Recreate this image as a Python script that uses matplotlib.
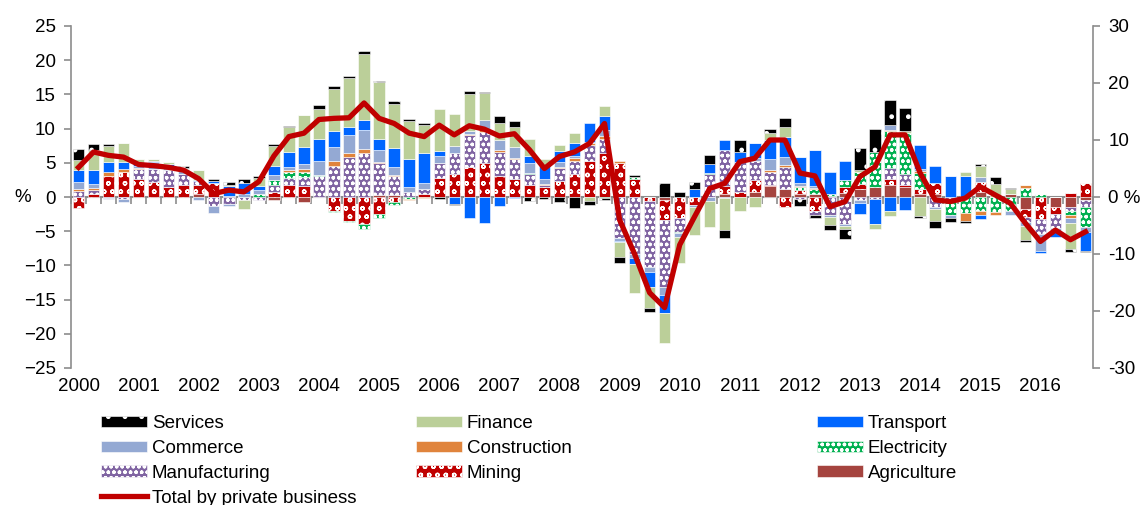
import numpy as np
import matplotlib
matplotlib.use("Agg")
import matplotlib.pyplot as plt
from matplotlib.ticker import FixedLocator, FuncFormatter

plt.rcParams["font.family"] = ["Liberation Sans", "DejaVu Sans"]
plt.rcParams["hatch.linewidth"] = 1.0

# quarterly contributions (percentage points), 2000Q1 .. 2016Q4
years = list(range(2000, 2017))

services = [1.5, 0.9, 0.3, 0, 0, 0, 0, 0.3, 0, 0.3, 0.4, 0.6,
            0.2, 0.4, 0.25, 0, 0.5, 0.4, 0.35, 0.5, 0.25, 0.4, 0.25, 0.35,
            -0.3, -0.2, 0.4, 0.2, 1.0, 0.9, -0.6, -0.3, -0.8, -1.6, -0.5, -0.2,
            -0.8, 0.25, -0.5, 2.1, 0.7, 1.1, 1.3, -1.2, 1.8, 0, 0.5, 1.2,
            -1.0, -0.4, -0.7, -1.5, 3.1, 3.4, 3.65, 3.4, -0.3, -1.0, -0.6, -0.35,
            0.25, 1.0, 0.25, -0.25, 0, 0, -0.5, -0.1]
finance = [1.5, 2.8, 2.3, 2.7, 0.6, 0.3, 0.3, 0.2, 1.4, 0, 0.2, -1.3,
           1.2, 2.8, 3.6, 4.7, 4.4, 6.2, 7.2, 9.7, 8.2, 6.5, 5.5, 4.0,
           6.1, 4.7, 5.4, 3.9, 2.4, 2.9, 2.4, 0.8, 0.8, 1.5, -0.6, 1.5,
           -2.2, -4.3, -3.2, -4.4, -3.9, -4.1, -3.8, -4.6, -2.0, -1.4, 1.0, 1.6,
           0, 0, -1.2, -0.4, 0.4, -0.8, -0.7, 0.3, -2.8, -1.7, 0, 0.6,
           1.7, 1.95, 0.6, -2.0, 0, 0, -3.8, 0]
transport = [1.8, 2.15, 1.5, 1.1, 0.4, 0.1, 0.25, 0, 0.2, 0.4, 1.4, 1.6,
             0.6, 1.4, 2.2, 2.4, 3.2, 2.3, 1.1, 1.4, 1.7, 2.8, 4.1, 4.4,
             0.7, -1.0, -3.0, -3.8, -1.3, -0.2, 1.1, 2.0, 1.6, 1.85, 2.7, 2.0,
             -0.1, -0.9, -2.2, -2.6, 0, 1.1, 1.3, 1.45, 1.45, 2.2, 2.9, 2.8,
             3.75, 5.3, 3.2, 2.8, -1.6, -3.6, -2.1, -1.85, 3.4, 2.5, 3.1, 3.1,
             -0.5, 0, 0, 0, -0.3, -0.8, 0, -2.8]
commerce = [1.0, 0.6, -0.2, -0.5, 0.3, 1.0, 0.7, 0.7, -0.5, -1.0, -0.3, 0.4,
            0.5, 0.7, 0.5, 0.7, 2.1, 2.0, 2.7, 2.8, 1.7, 1.15, 0.7, 0.9,
            1.1, 1.0, 0.5, 1.5, 1.6, 1.7, 1.4, 0.8, 0.8, 0.3, 0.2, 0.9,
            -0.5, -0.5, -0.6, -1.2, -0.5, -0.3, -0.6, -0.2, 0, 0.4, 1.5, 1.2,
            0.4, 0.3, -0.3, -0.4, -0.5, 0, 0.7, 0, 0.3, -0.3, -0.4, 0,
            0.7, 0, -0.5, -0.7, -2.5, -0.5, -0.7, -0.7]
construction = [0.25, 0.25, 0.5, 0.35, 0.15, 0, 0, 0, 0, 0, 0, 0,
                0, 0, 0.25, 0.45, 0, 0.7, 0.6, 0.6, 0.25, 0.1, -0.1, -0.2,
                0, 0, 0.2, 0.3, 0.2, 0.15, 0, 0.2, 0.15, 0.5, 0.25, 0.5,
                0.3, 0, 0, 0, 0, 0, 0, 0, 0, 0, 0.3, 0.3,
                0.15, 0.2, 0, 0, 0, 0, 0.2, 0, 0.35, 0, 0, -1.1,
                -0.6, -0.5, 0, 0.5, 0, 0, -0.4, 0]
electricity = [0, 0, 0, 0, 0, 0, 0, 0, 0, 0, 0, 0,
               0.5, 0.7, 0.8, 0.75, 0.2, -0.1, -0.2, -0.7, -0.5, -0.4, -0.3, 0,
               0, 0, 0, 0, 0, 0, 0.2, 0, 0, 0, 0, -0.2,
               0, 0.2, 0, 0, -0.25, 0, 0.2, 0, 0, 0, 0, 0,
               0.5, 0.7, 0.25, 1.1, 1.7, 5.2, 5.4, 6.0, 2.3, 0, -2.0, -2.4,
               -2.1, -2.2, -2.1, 1.3, 0.4, 0, -0.6, -2.9]
manufacturing = [0.9, 0.5, -0.1, -0.3, 1.5, 1.9, 2.4, 1.7, 0.6, -1.3, -1.0, -0.5,
                 -0.4, 1.0, 1.1, 1.3, 3.0, 4.6, 5.8, 6.4, 4.6, 2.8, 0.8, 0.7,
                 2.1, 3.0, 4.6, 4.6, 3.5, 2.8, 1.6, 0.2, 1.8, 1.8, 2.3, 1.95,
                 -6.0, -8.4, -9.7, -9.9, -1.95, 0, 3.3, 5.3, 4.4, 2.8, 1.95, 3.2,
                 -0.3, -0.5, -2.6, -3.9, -0.4, -0.3, 1.5, 1.6, 0, -1.5, -0.7, 0,
                 0, 0, 0, -0.7, -2.2, -2.0, -0.7, -1.0]
mining = [-1.6, 0.5, 3.1, 3.7, 2.6, 2.2, 1.5, 1.7, 1.2, 2.0, 0, 0,
          0, 0.8, 1.75, 1.65, 0, -2.1, -3.5, -4.0, -2.5, -0.7, 0, 0.5,
          2.8, 3.4, 4.4, 4.9, 3.1, 2.7, 1.75, 1.5, 2.4, 3.4, 5.3, 6.5,
          5.0, 2.7, -0.6, -2.9, -3.1, -1.2, 0, 1.2, 0.7, 1.8, 0.15, -1.4,
          0.5, -2.1, 0, 0.8, 0.7, 0, 1.0, 0.2, 0.7, 1.6, 0, 0,
          1.5, 0, 0, -1.2, -3.2, -1.0, 0.6, 2.1]
agriculture = [0, 0, 0, 0, 0, 0, 0, 0, 0.5, 0, 0.2, 0,
               0, -0.5, 0, -0.7, 0, 0, 0, 0, 0.3, 0.3, 0, 0,
               0, 0, 0, 0, 0, 0, 0, 0, 0, 0, 0, 0,
               0, 0, 0, -0.4, 0, 0, 0, 0.4, 0, 0.7, 1.6, 1.2,
               0.5, 0.4, 0.2, 0.6, 1.2, 1.4, 1.7, 1.5, 0.5, 0.4, 0, 0,
               0.7, 0, 0.5, -1.7, 0, -1.5, -1.4, -0.5]
total = [5.2, 7.9, 7.3, 7.0, 5.7, 5.5, 5.2, 4.7, 3.2, 0.6, 1.2, 0.9,
         2.7, 7.2, 10.6, 11.2, 13.6, 13.8, 13.9, 16.5, 13.8, 12.9, 11.2, 10.6,
         12.6, 10.9, 12.5, 11.9, 10.7, 11.1, 8.3, 5.0, 7.1, 7.9, 9.4, 12.9,
         -4.0, -10.0, -16.8, -19.4, -8.4, -3.4, 1.5, 2.4, 6.2, 6.8, 10.0, 10.0,
         4.2, 3.7, -1.7, -0.8, 3.6, 5.3, 10.9, 10.9, 4.2, -0.5, -0.8, -0.2,
         1.8, 0.35, -1.1, -4.6, -7.8, -5.8, -7.5, -6.1]

# stacking order, bottom (nearest zero) first
stack = [
    ("Agriculture", agriculture, "#A5443F", None),
    ("Mining", mining, "#C00000", "oo"),
    ("Manufacturing", manufacturing, "#8064A2", "ooo"),
    ("Electricity", electricity, "#00B050", "ooo"),
    ("Construction", construction, "#E0843C", None),
    ("Commerce", commerce, "#94A9D3", None),
    ("Transport", transport, "#0066FF", None),
    ("Finance", finance, "#BBCF99", None),
    ("Services", services, "#000000", "."),
]

fig = plt.figure(figsize=(11.46, 5.05), dpi=100)
ax = fig.add_axes([71 / 1146, 1 - 368 / 505, 1022 / 1146, 342 / 505])

x = np.arange(len(total))
pos_base = np.zeros(len(x))
neg_base = np.zeros(len(x))
handles = {}
for name, vals, color, hatch in stack:
    v = np.array(vals, dtype=float)
    bottom = np.where(v >= 0, pos_base, neg_base)
    handles[name] = ax.bar(x, v, 0.76, bottom=bottom, color=color,
                           edgecolor="white", linewidth=0.4, hatch=hatch)
    pos_base += np.clip(v, 0, None)
    neg_base += np.clip(v, None, 0)

grey = "#8C8C8C"
fs = 13.5
ax.set_xlim(-0.5, len(x) - 0.5)
ax.set_ylim(-25, 25)
ax.set_yticks(np.arange(-25, 26, 5))
ax.tick_params(axis="y", direction="out", length=5, width=1.2, color=grey,
               labelsize=fs, pad=6)
ax.set_xticks(np.arange(0, len(x), 4))
ax.set_xticklabels([str(y) for y in years])
ax.tick_params(axis="x", length=0, labelsize=fs, pad=7.5)
for s in ["top", "right", "bottom"]:
    ax.spines[s].set_visible(False)
ax.spines["left"].set_color(grey)
ax.spines["left"].set_linewidth(1.2)
ax.text(-0.047, 0, "%", transform=ax.get_yaxis_transform(), ha="center",
        va="center", fontsize=fs)

# category axis line through zero
sec = ax.secondary_xaxis(0.5)
sec.xaxis.set_major_locator(FixedLocator(np.arange(-0.5, len(x), 1)))
sec.tick_params(axis="x", direction="in", length=5, width=1.2, color=grey,
                labeltop=False, labelbottom=False)
for s in sec.spines.values():
    s.set_color(grey)
    s.set_linewidth(1.5)

ax2 = ax.twinx()
ax2.set_ylim(-30, 30)
line, = ax2.plot(x, total, color="#C00000", linewidth=3.8,
                 solid_joinstyle="round")
ax2.set_yticks(np.arange(-30, 31, 10))
ax2.yaxis.set_major_formatter(FuncFormatter(lambda v, p: "0 %" if v == 0 else f"{v:.0f}"))
ax2.tick_params(axis="y", direction="out", length=5, width=1.2, color=grey,
                labelsize=fs, pad=6)
for s in ["top", "left", "bottom"]:
    ax2.spines[s].set_visible(False)
ax2.spines["right"].set_color(grey)
ax2.spines["right"].set_linewidth(1.2)

# legend in three columns, laid out like the original
cols = [
    (101, ["Services", "Commerce", "Manufacturing", "Total by private business"]),
    (416, ["Finance", "Construction", "Mining"]),
    (817, ["Transport", "Electricity", "Agriculture"]),
]
for xpix, names in cols:
    hs = [line if n.startswith("Total") else handles[n] for n in names]
    fig.legend(hs, names, loc="upper left",
               bbox_to_anchor=(xpix / 1146, 1 - 415 / 505),
               frameon=False, fontsize=fs, borderpad=0,
               borderaxespad=0, handlelength=2.45, handleheight=0.55,
               handletextpad=0.25, labelspacing=0.42)

fig.savefig("out.png", dpi=100)
